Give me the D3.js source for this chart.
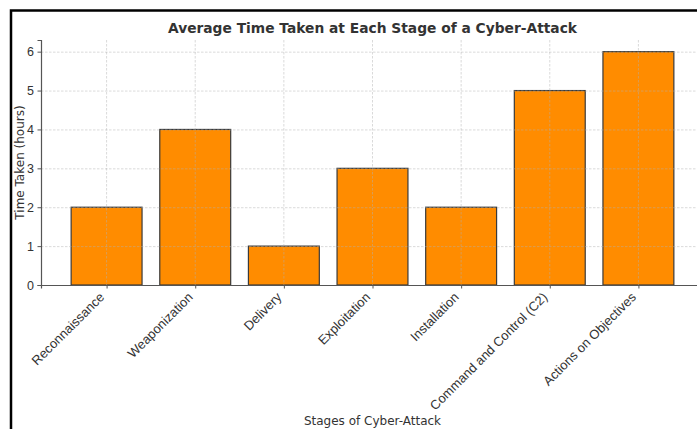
<!DOCTYPE html>
<html>
<head>
<meta charset="utf-8">
<script src="https://cdn.jsdelivr.net/npm/d3@7"></script>
<style>
  body { margin: 0; background: #fff; }
  svg { display: block; font-family: "DejaVu Sans", sans-serif; }
</style>
</head>
<body>
<div id="chart"></div>
<script>
const stages = ['Reconnaissance', 'Weaponization', 'Delivery', 'Exploitation',
  'Installation', 'Command and Control (C2)', 'Actions on Objectives']
const hours = [2, 4, 1, 3, 2, 5, 6]
const yTicks = [0, 1, 2, 3, 4, 5, 6]

const W = 697, H = 429
const margin = { top: 40, left: 41, bottom: 144 }
const plotRight = 704   // the plot runs a little past the picture's edge
const y0 = H - margin.bottom

const svg = d3.select('#chart').append('svg')
  .attr('width', W)
  .attr('height', H)

// outer frame (left and top edges only are visible)
svg.append('path')
  .attr('d', `M11,${H} L11,10.5 L${W},10.5`)
  .attr('fill', 'none')
  .attr('stroke', '#000')
  .attr('stroke-width', 2.5)

const x = d3.scaleLinear()
  .domain([-0.74, stages.length - 1 + 0.74])
  .range([margin.left, plotRight])

const y = d3.scaleLinear()
  .domain([0, 6.3])
  .range([y0, margin.top])

const barW = x(0.4) - x(-0.4)

// bars
svg.selectAll('rect.bar')
  .data(hours)
  .enter()
  .append('rect')
  .attr('class', 'bar')
  .attr('x', (d, i) => x(i) - barW / 2)
  .attr('y', d => y(d))
  .attr('width', barW)
  .attr('height', d => y0 - y(d))
  .style('fill', '#ff8c00')
  .style('stroke', '#3a3a3a')
  .style('stroke-width', 1.2)

// grid on top of the bars
const grid = svg.append('g')
  .attr('stroke', '#b0b0b0')
  .attr('stroke-opacity', 0.6)
  .attr('stroke-width', 0.8)
  .attr('stroke-dasharray', '2.5,1.5')

grid.selectAll('line.h')
  .data(yTicks.slice(1))
  .enter().append('line')
  .attr('x1', margin.left).attr('x2', plotRight)
  .attr('y1', d => y(d) + 0.5).attr('y2', d => y(d) + 0.5)

grid.selectAll('line.v')
  .data(stages)
  .enter().append('line')
  .attr('x1', (d, i) => x(i)).attr('x2', (d, i) => x(i))
  .attr('y1', margin.top).attr('y2', y0)

/* Y axis */
const yAxis = d3.axisLeft(y)
  .tickValues(yTicks)
  .tickFormat(d3.format('d'))
  .tickSize(3.5)
  .tickPadding(3.5)

svg.append('g')
  .attr('transform', `translate(${margin.left}, 0)`)
  .call(yAxis)
  .call(g => g.select('.domain').attr('stroke', '#555').attr('stroke-width', 1.2))
  .call(g => g.selectAll('.tick line').attr('stroke', '#555'))
  .call(g => g.selectAll('.tick text').attr('fill', '#333').style('font-size', '12.5px'))

/* X axis */
const xAxis = d3.axisBottom(x)
  .tickValues(d3.range(stages.length))
  .tickFormat(i => stages[i])
  .tickSize(3.5)
  .tickPadding(4)

svg.append('g')
  .attr('transform', `translate(0, ${y0})`)
  .call(xAxis)
  .call(g => g.select('.domain').attr('stroke', '#555').attr('stroke-width', 1.2))
  .call(g => g.selectAll('.tick line').attr('stroke', '#555'))
  .selectAll('.tick text')
  .attr('fill', '#333')
  .style('font-size', '13px')
  .style('text-anchor', 'end')
  .attr('x', 0)
  .attr('y', 0)
  .attr('dy', 0)
  .attr('transform', 'translate(-2, 13) rotate(-45)')

// title
svg.append('text')
  .attr('x', (margin.left + plotRight) / 2)
  .attr('y', 33)
  .style('text-anchor', 'middle')
  .style('font-size', '13.8px')
  .style('font-weight', 'bold')
  .style('fill', '#333')
  .text('Average Time Taken at Each Stage of a Cyber-Attack')

// Y label
svg.append('text')
  .attr('transform', `translate(24, ${(margin.top + y0) / 2}) rotate(-90)`)
  .style('text-anchor', 'middle')
  .style('font-size', '12px')
  .style('fill', '#333')
  .text('Time Taken (hours)')

// X label
svg.append('text')
  .attr('x', (margin.left + plotRight) / 2)
  .attr('y', 425)
  .style('text-anchor', 'middle')
  .style('font-size', '12px')
  .style('fill', '#333')
  .text('Stages of Cyber-Attack')
</script>
</body>
</html>
